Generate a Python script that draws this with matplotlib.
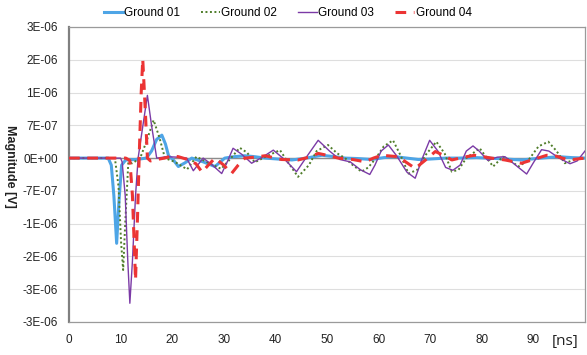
import numpy as np
import matplotlib.pyplot as plt

plt.rcParams['font.family'] = ['Liberation Sans', 'DejaVu Sans']

# time [ns] and magnitude in units of 1e-7 V
t_g01 = [0, 7.6, 8.2, 8.7, 9.24, 9.7, 10.2, 11, 13, 15, 16, 17, 18, 18.7, 19.3, 20.3,
         21.2, 22.5, 23.8, 26, 28.3, 30.2, 32, 34.1, 36, 38, 40.5, 43.2, 46, 49, 51.5,
         53.5, 56, 58.7, 61, 63.2, 65.5, 67.7, 70, 73, 75.5, 79, 83, 87.7, 91.5, 94.9,
         97.5, 100]
v_g01 = [0, 0, -1.5, -8, -18.2, -9, -1.5, -0.4, -0.3, 0, 1.5, 4.0, 4.9, 3.0, 0.5, -0.5,
         -1.8, -1.0, 0, -0.8, -1.8, 0, 0.3, 0.5, 0.3, 0, -0.2, -0.4, 0, 0.6, 0.3,
         0, -0.1, -0.3, 0.1, 0.3, 0, -0.3, -0.2, 0, 0, 0.1, -0.1, -0.4, 0, 0.3,
         0.1, 0]

t_g02 = [0, 8.9, 9.6, 10.1, 10.5, 10.9, 11.5, 12.3, 13.8, 15.0, 16.4, 17.5, 18.6, 20.5,
         22.9, 24.7, 27, 29.5, 31, 33.1, 34.5, 36, 38.5, 40.9, 42.5, 44.4, 46.5, 48,
         50.2, 52, 53.5, 55, 56.7, 58, 59.5, 61, 62.8, 64.3, 65.8, 67.5, 69, 71.2, 72.8,
         74.2, 75.5, 77, 79.6, 81, 82.2, 84.1, 85.5, 87.1, 89, 91, 92.9, 94.5, 96.1,
         98, 100]
v_g02 = [0, 0, -6, -18, -23.9, -14, -0.9, -1.1, 0, 3.5, 8.1, 4.5, 0, -0.8,
         -2.4, 0.3, -1.0, -2.3, -0.5, 2.2, 1.2, -0.9, 0.5, 1.7, -1.0, -4.0, -1.5, 1.5,
         2.8, 1.0, 0, -1.5, -2.9, -2.0, 0, 2.5, 3.8, 0.5, -3.3, -2.5, 0.5, 3.5, 1.0,
         -2.9, -2.5, 0, 2.1, 0, -1.8, 0.3, -0.5, -1.8, -0.5, 2.5, 3.5, 1.5, -1.1,
         -0.3, 0]

t_g03 = [0, 10.0, 10.3, 10.9, 11.4, 11.8, 12.3, 12.9, 13.4, 14.2, 15.2, 16.0, 17.0, 19,
         21, 22.8, 24.1, 26, 27.8, 29.6, 30.8, 31.8, 33.5, 35.4, 37.5, 39.6, 42, 44.1,
         46.2, 48.3, 50.5, 52.5, 54.5, 56.5, 58.3, 59.3, 60.5, 61.9, 63.5, 65.5, 67.1,
         68.5, 69.9, 71.5, 73, 74.4, 75.8, 77, 78.3, 79.5, 81.2, 83, 84.5, 86, 88.7,
         90, 91.6, 93, 95, 97.1, 98.5, 100]
v_g03 = [0, 0, -0.8, -8, -22, -31.0, -22, -8, 0, 6, 13.4, 7, 0, 0.3,
         0.2, 0, -2.7, 0, -1.5, -3.3, -0.5, 2.1, 0.8, -1.1, 0.2, 1.7, -0.5, -2.9,
         0.5, 3.8, 1.5, -0.3, -0.8, -2.5, -3.5, -1.5, 1.5, 2.8, 0.5, -3.0, -4.3,
         0, 3.8, 1.5, -2.0, -2.6, -1.5, 1.5, 2.6, 1.5, -0.5, 0.2, 0.3, -1.0, -3.4,
         -1.0, 1.8, 1.5, 0, -1.2, -0.6, 1.5]

t_g04 = [0, 11.0, 11.8, 12.3, 12.9, 13.3, 13.6, 14.0, 14.3, 14.8, 15.2, 15.8, 17, 18.5,
         20, 21.2, 23, 24.6, 25.8, 27, 28.3, 30, 31.5, 32.8, 34.1, 36, 38, 41.2, 44.4,
         46.5, 48.3, 50, 52.2, 55, 57.4, 59, 60.6, 63.8, 65.5, 67.1, 69, 71, 72.8, 74.2,
         76.5, 78.6, 81.9, 84.5, 87.7, 90, 92.6, 94.5, 96.8, 100]
v_g04 = [0, 0, -0.5, -8, -26.0, -12, 0, 14, 21.1, 10, 0, -0.6, -0.3, 0,
         0.5, 0.3, -0.3, -1.2, -3.0, -1.5, 0, -1.5, -3.3, -1.5, 0, 0.2, 0.5, -0.3, -0.4,
         0.2, 1.0, 0.6, 0, -0.3, -0.8, 0, 0.6, 0.3, -1.0, -2.2, -0.5, 1.4, 0.5, -0.4,
         0.2, 0.6, 0, -0.4, -1.1, -0.3, 0.6, 0.4, -0.4, 0]

scale = 1e-7
y_ticks = [-3.5e-6 + k * 0.7e-6 for k in range(10)]
y_labels = ['-3E-06', '-3E-06', '-2E-06', '-1E-06', '-7E-07', '0E+00',
            '7E-07', '1E-06', '2E-06', '3E-06']
x_ticks = list(range(0, 100, 10))

fig = plt.figure(figsize=(5.87, 3.55), dpi=100)
ax = fig.add_axes([0.1175, 0.093, 0.879, 0.831])

ax.plot(t_g01, np.array(v_g01) * scale, color='#4ea5e6', lw=2.2, label='Ground 01', zorder=3)
ax.plot(t_g02, np.array(v_g02) * scale, color='#4f7d2a', lw=1.4, ls=(0, (1, 1.3)),
        label='Ground 02', zorder=4)
ax.plot(t_g03, np.array(v_g03) * scale, color='#7b3aa6', lw=1.0, label='Ground 03', zorder=5)
ax.plot(t_g04, np.array(v_g04) * scale, color='#ec3434', lw=2.2, ls=(0, (3.5, 2.5)),
        label='Ground 04', zorder=6)

ax.axhline(0, color='#8c8c8c', lw=1.0, zorder=2)
ax.set_xlim(0, 100)
ax.set_ylim(-3.5e-6, 2.8e-6)
ax.set_yticks(y_ticks)
ax.set_yticklabels(y_labels)
ax.set_xticks(x_ticks)
ax.tick_params(axis='both', length=0, labelsize=8.5, colors='#222222')
ax.tick_params(axis='x', pad=9)
ax.tick_params(axis='y', pad=8)
ax.grid(axis='y', color='#dedede', lw=0.8, zorder=0)
for name, sp in ax.spines.items():
    sp.set_color('#9a9a9a')
    sp.set_linewidth(0.9)
ax.spines['left'].set_color('#808080')
ax.spines['left'].set_linewidth(1.6)

fig.text(0.017, 0.53, 'Magnitude [V]', fontsize=9, fontweight='bold', rotation=270,
         ha='center', va='center', color='#222222')

fig.text(0.962, 0.038, '[ns]', fontsize=11, family='Open Sans', ha='center', va='center',
         color='#222222')

fig.legend(loc='upper center', bbox_to_anchor=(0.49, 1.01), ncol=4, frameon=False,
           fontsize=8.5, handlelength=1.6, handletextpad=0.1, columnspacing=1.8)

fig.savefig('out.png', dpi=100)
